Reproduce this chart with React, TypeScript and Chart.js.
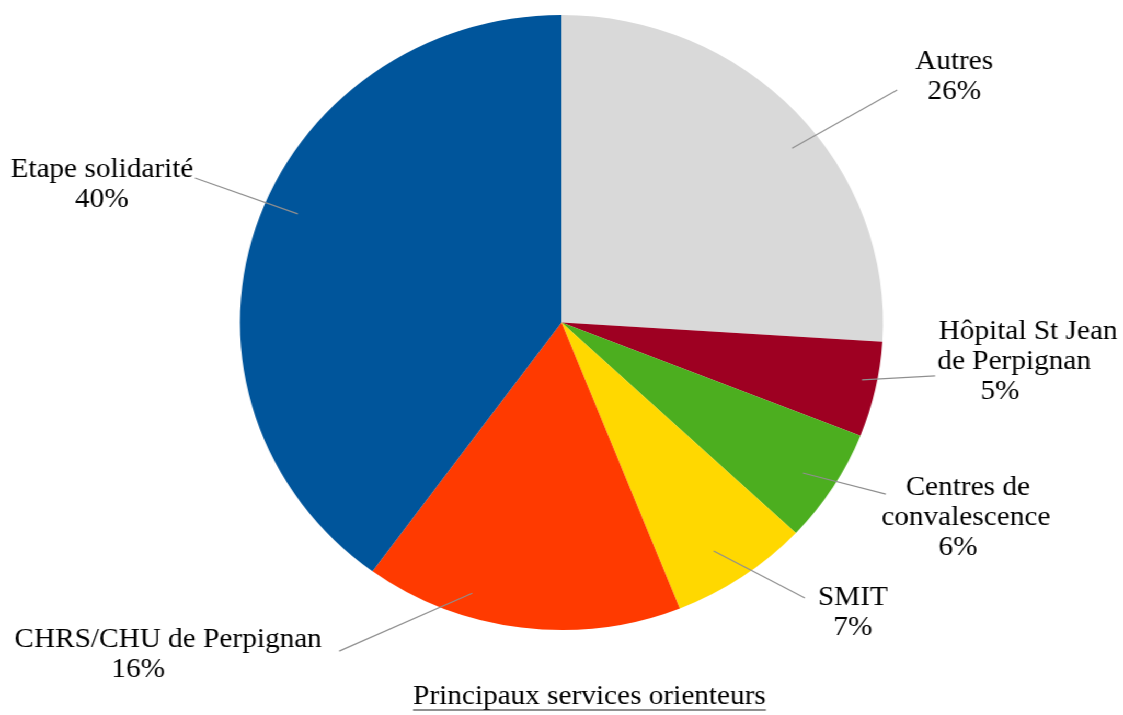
import React, { useEffect, useRef } from "react";
import { Chart, registerables } from "chart.js";

Chart.register(...registerables);

// ---- data ----
const categories = [
  "Autres",
  "Hôpital St Jean de Perpignan",
  "Centres de convalescence",
  "SMIT",
  "CHRS/CHU de Perpignan",
  "Etape solidarité",
];
const shares = [26, 5, 6, 7, 16, 40];
const labelTextLines = [
  ["Autres"],
  ["Hôpital St Jean", "de Perpignan"],
  ["Centres de", "convalescence"],
  ["SMIT"],
  ["CHRS/CHU de Perpignan"],
  ["Etape solidarité"],
];
const chartTitle = "Principaux services orienteurs";

// ---- styles / layout ----
const sliceColors = ["#D9D9D9", "#9E0022", "#4CAE1F", "#FFD800", "#FF3A00", "#00559B"];
const SX = 1.0456; // horizontal stretch of the picture
const W = 1074;
const H = 715;
// leader line layout: start/end angle offsets (deg, from slice middle), radius fractions, text offset (page px)
const leaderLayout = [
  { sd: 4.9, sr: 0.914, ed: 7.3, er: 1.289, dx: 57, dy: -13, lx: [0, 0] },
  { sd: -1.3, sr: 0.953, ed: -4.1, er: 1.175, dx: 81, dy: -14, lx: [12, -2, -16] },
  { sd: 0.7, sr: 0.896, ed: -3.45, er: 1.153, dx: 80, dy: 24, lx: [2, 0, -8] },
  { sd: 1.7, sr: 0.881, ed: -6, er: 1.173, dx: 48, dy: 15, lx: [0, 0] },
  { sd: 10.3, sr: 0.923, ed: 25.7, er: 1.273, dx: -171, dy: 3, lx: [0, -30] },
  { sd: 5.3, sr: 0.893, ed: 4.4, er: 1.233, dx: -93, dy: 7, lx: [0, 0] },
];
const FONT = "28px 'Liberation Serif', 'Times New Roman', serif";
const LINE_H = 30;

const labelPlugin = {
  id: "pieLabels",
  afterDraw(chart: any) {
    const ctx = chart.ctx;
    const meta = chart.getDatasetMeta(0);
    ctx.save();
    meta.data.forEach((arc: any, i: number) => {
      const p = arc.getProps(["x", "y", "startAngle", "endAngle", "outerRadius"], true);
      const mid = (p.startAngle + p.endAngle) / 2;
      const L = leaderLayout[i];
      const a1 = mid + (L.sd * Math.PI) / 180;
      const a2 = mid + (L.ed * Math.PI) / 180;
      const x1 = p.x + Math.cos(a1) * p.outerRadius * L.sr;
      const y1 = p.y + Math.sin(a1) * p.outerRadius * L.sr;
      const x2 = p.x + Math.cos(a2) * p.outerRadius * L.er;
      const y2 = p.y + Math.sin(a2) * p.outerRadius * L.er;
      ctx.beginPath();
      ctx.strokeStyle = "#8f8f8f";
      ctx.lineWidth = 1.2;
      ctx.moveTo(x1, y1);
      ctx.lineTo(x2, y2);
      ctx.stroke();

      const lines = [...labelTextLines[i], `${shares[i]}%`];
      const cx = x2 + L.dx / SX;
      const cy = y2 + L.dy;
      ctx.font = FONT;
      ctx.fillStyle = "#000";
      ctx.textAlign = "center";
      ctx.textBaseline = "middle";
      const top = cy - ((lines.length - 1) * LINE_H) / 2;
      lines.forEach((t, k) => ctx.fillText(t, cx + (L.lx[k] || 0) / SX, top + k * LINE_H));
    });

    // title with underline
    const area = chart.chartArea;
    const tx = (area.left + area.right) / 2 + 28 / SX;
    const ty = 697;
    ctx.font = FONT;
    ctx.fillStyle = "#000";
    ctx.textAlign = "center";
    ctx.textBaseline = "middle";
    ctx.fillText(chartTitle, tx, ty);
    const w = ctx.measureText(chartTitle).width;
    ctx.beginPath();
    ctx.strokeStyle = "#222";
    ctx.lineWidth = 1.2;
    ctx.moveTo(tx - w / 2, ty + 13);
    ctx.lineTo(tx + w / 2, ty + 13);
    ctx.stroke();
    ctx.restore();
  },
};

export default function App() {
  const ref = useRef<HTMLCanvasElement>(null);
  useEffect(() => {
    const canvas = ref.current!;
    const chart = new Chart(canvas, {
      type: "pie",
      data: {
        labels: categories,
        datasets: [
          {
            data: shares,
            backgroundColor: sliceColors,
            borderWidth: 0,
          },
        ],
      },
      options: {
        responsive: false,
        animation: false,
        devicePixelRatio: 1,
        layout: { padding: { left: 229.5, right: 229.5, top: 15, bottom: 85 } },
        plugins: {
          legend: { display: false },
          tooltip: { enabled: false },
          title: { display: false },
        },
      },
      plugins: [labelPlugin],
    });
    return () => chart.destroy();
  }, []);
  return (
    <div
      style={{
        position: "absolute",
        left: 0,
        top: 0,
        width: W,
        height: H,
        background: "#fff",
        transform: `scaleX(${SX})`,
        transformOrigin: "0 0",
      }}
    >
      <canvas ref={ref} width={W} height={H} style={{ width: W, height: H, display: "block" }} />
    </div>
  );
}
